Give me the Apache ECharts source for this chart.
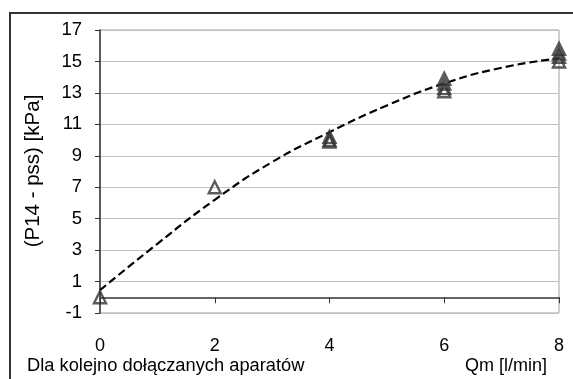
<!DOCTYPE html>
<html>
<head>
<meta charset="utf-8">
<script src="https://cdn.jsdelivr.net/npm/echarts@6/dist/echarts.min.js"></script>
<style>
html,body{margin:0;padding:0;background:#fff;}
#c{width:573px;height:379px;}
</style>
</head>
<body>
<div id="c"></div>
<script>
// Data
var measX = [0, 2, 4, 4, 4, 6, 6, 6, 6, 8, 8, 8, 8];
var measY = [0, 7.0, 10.2, 10.0, 9.9, 13.1, 13.3, 13.6, 13.9, 15.0, 15.3, 15.5, 15.8];
var trendX = [0, 1, 2, 3, 4, 5, 6, 7, 8];
var trendY = [0.45, 3.4, 6.2, 8.6, 10.5, 12.2, 13.6, 14.6, 15.2];
var yTicks = [-1, 1, 3, 5, 7, 9, 11, 13, 15, 17];
var xTicks = [0, 2, 4, 6, 8];
var yTitle = '(P14 - pss) [kPa]';
var xTitle = 'Qm [l/min]';
var noteText = 'Dla kolejno dołączanych aparatów';

var FONT = 'Liberation Sans, Arial, sans-serif';
var chart = echarts.init(document.getElementById('c'), null, {renderer: 'canvas'});

var scatterData = measX.map(function (x, i) { return [x, measY[i]]; });
var trendData = trendX.map(function (x, i) { return [x, trendY[i]]; });

chart.setOption({
  animation: false,
  backgroundColor: '#fff',
  grid: {
    left: 100, top: 30, width: 459, height: 283,
    show: true, borderColor: '#a0a0a0', borderWidth: 1, backgroundColor: 'transparent'
  },
  xAxis: {
    type: 'value', min: 0, max: 8, interval: 2,
    axisLine: {show: true, onZero: true, lineStyle: {color: '#333', width: 1.5}},
    axisTick: {show: true, inside: false, length: 6, lineStyle: {color: '#333', width: 1}},
    axisLabel: {
      show: true, margin: 24, color: '#000', fontFamily: FONT, fontSize: 18,
      customValues: xTicks,
      formatter: function (v) { return String(v); }
    },
    splitLine: {show: false}
  },
  yAxis: {
    type: 'value', min: -1, max: 17, interval: 2,
    axisLine: {show: true, lineStyle: {color: '#333', width: 1.5}},
    axisTick: {show: true, inside: false, length: 5, customValues: yTicks, lineStyle: {color: '#333', width: 1}},
    axisLabel: {
      show: true, margin: 18, color: '#000', fontFamily: FONT, fontSize: 18.5,
      customValues: yTicks,
      formatter: function (v) { return String(v); }
    },
    splitLine: {show: true, lineStyle: {color: '#c0c0c0', width: 1}}
  },
  series: [
    {
      type: 'line', data: trendData, smooth: true, symbol: 'none', z: 3,
      lineStyle: {color: '#000', width: 2.2, type: [8, 4]}
    },
    {
      type: 'scatter', data: scatterData, symbol: 'triangle', symbolSize: [12, 12], z: 4,
      itemStyle: {color: 'rgba(255,255,255,0)', borderColor: '#333', borderWidth: 2.4}
    }
  ],
  graphic: [
    {type: 'rect', shape: {x: 10, y: 13, width: 700, height: 500}, style: {fill: 'none', stroke: '#333', lineWidth: 2}, silent: true},
    {type: 'text', x: 33, y: 171, rotation: Math.PI / 2, style: {text: yTitle, font: '20.5px ' + FONT, fill: '#000', textAlign: 'center', textVerticalAlign: 'middle'}},
    {type: 'text', x: 27, y: 366, style: {text: noteText, font: '18.3px ' + FONT, fill: '#000', textAlign: 'left', textVerticalAlign: 'middle'}},
    {type: 'text', x: 547, y: 366, style: {text: xTitle, font: '18px ' + FONT, fill: '#000', textAlign: 'right', textVerticalAlign: 'middle'}}
  ]
});
</script>
</body>
</html>
